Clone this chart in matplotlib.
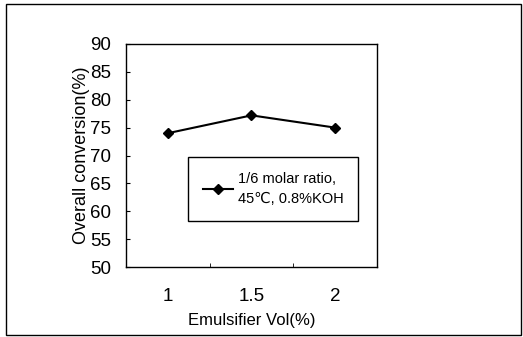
import matplotlib.pyplot as plt
from matplotlib.patches import Rectangle

# data
emulsifier = ['1', '1.5', '2']
conversion = [74.0, 77.2, 75.0]
series_label = '1/6 molar ratio,\n45\u2103, 0.8%KOH'

plt.rcParams['font.family'] = ['Liberation Sans', 'DejaVu Sans']

fig = plt.figure(figsize=(5.23, 3.37), dpi=100)
ax = fig.add_axes([126 / 523, 1 - 267 / 337, 251 / 523, 223 / 337])

x = range(len(emulsifier))
ax.plot(x, conversion, color='black', linewidth=1.5, marker='D', markersize=5,
        label=series_label)

ax.set_xlim(-0.5, len(emulsifier) - 0.5)
ax.set_ylim(50, 90)
ax.set_yticks(range(50, 91, 5))
ax.set_xticks(list(x))
ax.set_xticklabels(emulsifier)
ax.set_xticks([0.5, 1.5], minor=True)
ax.tick_params(axis='x', which='major', length=0, pad=15, labelsize=13.5)
ax.tick_params(axis='x', which='minor', direction='in', length=3)
ax.tick_params(axis='y', direction='in', length=3, pad=11, labelsize=13.5)
for s in ax.spines.values():
    s.set_linewidth(1.0)

ax.set_xlabel('Emulsifier Vol(%)', fontsize=12, labelpad=6)
ax.set_ylabel('Overall conversion(%)', fontsize=13, labelpad=0)

leg = ax.legend(loc='upper left', bbox_to_anchor=(0.247, 0.493), fontsize=10.5,
                fancybox=False, edgecolor='black', framealpha=1,
                handlelength=2.1, handletextpad=0.3, borderpad=1.0,
                borderaxespad=0)
leg.get_frame().set_linewidth(1.0)
for t in leg.get_texts():
    t.set_linespacing(1.6)

# outer frame around the figure
fig.patches.append(Rectangle((6 / 523, 2 / 337), 515 / 523, 331 / 337,
                             transform=fig.transFigure, fill=False,
                             edgecolor='black', linewidth=1.0))

fig.savefig('out.png', dpi=100)
